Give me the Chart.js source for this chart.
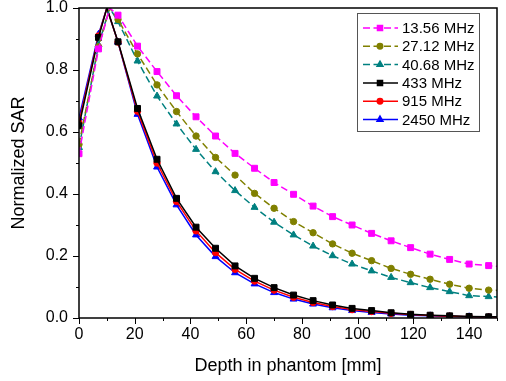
<!DOCTYPE html>
<html>
<head>
<meta charset="utf-8">
<script src="https://cdn.jsdelivr.net/npm/chart.js@4.4.1/dist/chart.umd.min.js"></script>
<style>
  html, body { margin: 0; padding: 0; background: #fff; }
  #wrap { width: 506px; height: 381px; }
</style>
</head>
<body>
<div id="wrap"><canvas id="sarChart"></canvas></div>
<script>
// depth positions [mm]; peak point has no marker, last point is the right edge
const depthSolid = [0, 7, 10, 14, 21, 28, 35, 42, 49, 56, 63, 70, 77, 84, 91, 98, 105, 112, 119, 126, 133, 140, 147, 150];
const depthDashed = [0, 7, 11, 14, 21, 28, 35, 42, 49, 56, 63, 70, 77, 84, 91, 98, 105, 112, 119, 126, 133, 140, 147, 150];

const sar13 = [0.53, 0.868, 1.0, 0.977, 0.877, 0.795, 0.717, 0.649, 0.587, 0.531, 0.483, 0.437, 0.399, 0.361, 0.327, 0.300, 0.273, 0.249, 0.227, 0.206, 0.189, 0.174, 0.169, 0.167];
const sar27 = [0.56, 0.875, 1.0, 0.963, 0.852, 0.752, 0.666, 0.587, 0.518, 0.461, 0.402, 0.354, 0.311, 0.275, 0.239, 0.209, 0.185, 0.160, 0.141, 0.125, 0.109, 0.096, 0.090, 0.089];
const sar40 = [0.55, 0.881, 1.0, 0.956, 0.829, 0.716, 0.626, 0.544, 0.472, 0.411, 0.357, 0.309, 0.268, 0.232, 0.201, 0.174, 0.152, 0.131, 0.114, 0.098, 0.085, 0.072, 0.069, 0.068];
const sar433 = [0.62, 0.905, 1.0, 0.891, 0.676, 0.512, 0.386, 0.293, 0.225, 0.168, 0.128, 0.098, 0.074, 0.056, 0.042, 0.031, 0.024, 0.017, 0.012, 0.009, 0.007, 0.005, 0.004, 0.004];
const sar915 = [0.63, 0.91, 1.0, 0.89, 0.667, 0.50, 0.376, 0.281, 0.211, 0.157, 0.119, 0.090, 0.067, 0.050, 0.037, 0.027, 0.021, 0.015, 0.011, 0.008, 0.006, 0.004, 0.003, 0.003];
const sar2450 = [0.645, 0.915, 1.0, 0.89, 0.657, 0.487, 0.365, 0.268, 0.198, 0.146, 0.110, 0.082, 0.061, 0.045, 0.033, 0.024, 0.018, 0.013, 0.009, 0.007, 0.005, 0.004, 0.003, 0.002];

const seriesLabels = ["13.56 MHz", "27.12 MHz", "40.68 MHz", "433 MHz", "915 MHz", "2450 MHz"];
const xTickValues = [0, 20, 40, 60, 80, 100, 120, 140];
const yTickValues = [0.0, 0.2, 0.4, 0.6, 0.8, 1.0];

const FONT = "'Liberation Sans', Arial, sans-serif";

function pts(xs, ys) {
  return xs.map((x, i) => ({ x: x, y: ys[i] }));
}

function makeSet(label, xs, ys, color, shape, dashed) {
  const r = shape === "rect" ? 4.2 : (shape === "triangle" ? 4.0 : 3.2);
  return {
    label: label,
    data: pts(xs, ys),
    borderColor: color,
    backgroundColor: color,
    borderWidth: 1.5,
    borderDash: dashed ? [7, 3.5] : [],
    pointStyle: shape,
    pointRadius: (ctx) => (ctx.raw && ctx.raw.x % 7 === 0 ? r : 0),
    pointBorderWidth: 1,
    pointBorderColor: color,
    pointBackgroundColor: color,
    tension: 0,
    legendRadius: r
  };
}

const datasets = [
  makeSet(seriesLabels[0], depthDashed, sar13, "#ff00ff", "rect", true),
  makeSet(seriesLabels[1], depthDashed, sar27, "#808000", "circle", true),
  makeSet(seriesLabels[2], depthDashed, sar40, "#008080", "triangle", true),
  makeSet(seriesLabels[3], depthSolid, sar433, "#000000", "rect", false),
  makeSet(seriesLabels[4], depthSolid, sar915, "#ff0000", "circle", false),
  makeSet(seriesLabels[5], depthSolid, sar2450, "#0000ff", "triangle", false)
];

// frame, outward major/minor ticks and the boxed legend
const framePlugin = {
  id: "frame",
  afterDraw(chart) {
    const { ctx, chartArea: a, scales } = chart;
    ctx.save();
    ctx.strokeStyle = "#000";
    ctx.lineWidth = 1.5;
    ctx.strokeRect(a.left, a.top, a.right - a.left, a.bottom - a.top);

    ctx.lineWidth = 1;
    ctx.beginPath();
    for (let v = 0; v <= 150; v += 10) {
      const px = Math.round(scales.x.getPixelForValue(v)) + 0.5;
      const len = v % 20 === 0 ? 6 : 3;
      ctx.moveTo(px, a.bottom);
      ctx.lineTo(px, a.bottom + len);
    }
    for (let i = 0; i <= 10; i++) {
      const v = i / 10;
      const py = Math.round(scales.y.getPixelForValue(v)) + 0.5;
      const len = i % 2 === 0 ? 6 : 3;
      ctx.moveTo(a.left, py);
      ctx.lineTo(a.left - len, py);
    }
    ctx.stroke();

    // legend
    const bx = 357, by = 13, bw = 122, bh = 118;
    ctx.fillStyle = "#fff";
    ctx.fillRect(bx, by, bw, bh);
    ctx.strokeStyle = "#555";
    ctx.lineWidth = 1;
    ctx.strokeRect(bx + 0.5, by + 0.5, bw, bh);
    ctx.font = "15px " + FONT;
    ctx.textBaseline = "middle";
    chart.data.datasets.forEach((ds, i) => {
      const y = by + 15 + i * 18.3;
      ctx.strokeStyle = ds.borderColor;
      ctx.lineWidth = 1.5;
      ctx.setLineDash(ds.borderDash);
      ctx.beginPath();
      ctx.moveTo(bx + 6, y);
      ctx.lineTo(bx + 41, y);
      ctx.stroke();
      ctx.setLineDash([]);
      ctx.fillStyle = ds.borderColor;
      Chart.helpers.drawPoint(ctx, { pointStyle: ds.pointStyle, radius: ds.legendRadius * 0.85, rotation: 0, borderWidth: 1 }, bx + 23, y);
      ctx.fillStyle = "#000";
      ctx.textAlign = "left";
      ctx.fillText(ds.label, bx + 45, y + 1);
    });
    ctx.restore();
  }
};

new Chart(document.getElementById("sarChart"), {
  type: "line",
  data: { datasets: datasets },
  plugins: [framePlugin],
  options: {
    responsive: true,
    maintainAspectRatio: false,
    animation: false,
    layout: { padding: { top: 8, right: 9, left: 0, bottom: 0 } },
    plugins: { legend: { display: false }, tooltip: { enabled: false } },
    scales: {
      x: {
        type: "linear",
        min: 0,
        max: 150,
        grid: { display: false, drawTicks: false },
        border: { display: false },
        afterBuildTicks: (s) => { s.ticks = xTickValues.map((v) => ({ value: v })); },
        afterFit: (s) => { s.height = 63; s.paddingLeft = 0; s.paddingRight = 0; },
        ticks: {
          color: "#000",
          padding: 7,
          maxRotation: 0,
          font: { family: FONT, size: 16 }
        },
        title: {
          display: true,
          text: "Depth in phantom [mm]",
          color: "#000",
          font: { family: FONT, size: 18 },
          padding: { top: 0, bottom: 4 }
        }
      },
      y: {
        type: "linear",
        min: 0,
        max: 1,
        grid: { display: false, drawTicks: false },
        border: { display: false },
        afterBuildTicks: (s) => { s.ticks = yTickValues.map((v) => ({ value: v })); },
        afterFit: (s) => { s.width = 79; s.paddingTop = 0; s.paddingBottom = 0; },
        ticks: {
          color: "#000",
          padding: 11,
          font: { family: FONT, size: 16 },
          callback: (v) => v.toFixed(1)
        },
        title: {
          display: true,
          text: "Normalized SAR",
          color: "#000",
          font: { family: FONT, size: 18 },
          padding: { top: 8, bottom: 0 }
        }
      }
    }
  }
});
</script>
</body>
</html>
